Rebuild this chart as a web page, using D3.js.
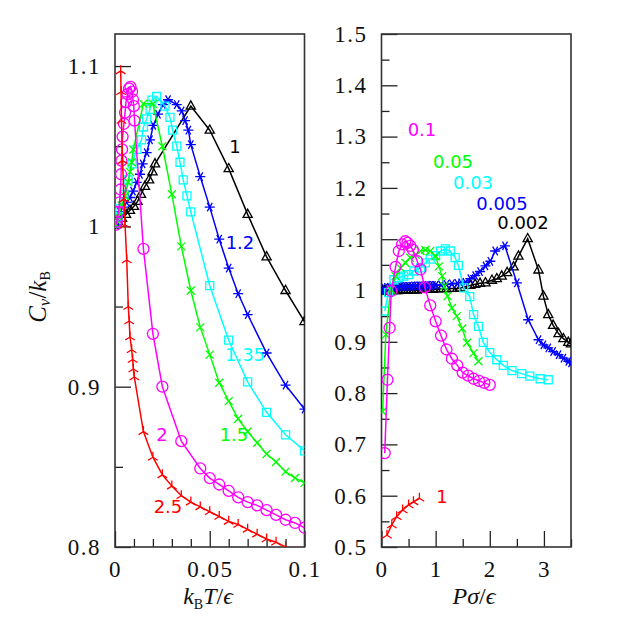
<!DOCTYPE html>
<html><head><meta charset="utf-8">
<script src="https://cdn.jsdelivr.net/npm/d3@7"></script>
<style>body{margin:0;background:#fff}svg{display:block}</style>
</head><body>
<svg id="c" width="623" height="623"></svg>
<script>
// ---------- LEFT PANEL: C_v/k_B vs k_B T/eps, labelled by pressure ----------
const leftP1_T  = [0.0005,0.0016,0.0037,0.0058,0.0079,0.01,0.0119,0.0137,0.0158,0.018,0.0198,0.0211,0.04,0.05,0.06,0.07,0.08,0.09,0.1];
const leftP1_Cv = [1.001,1.003,1.005,1.0075,1.01,1.0125,1.0156,1.02,1.025,1.029,1.034,1.039,1.075,1.06,1.036,1.0075,0.981,0.96,0.9406];
const leftP12_T  = [0.0005,0.001,0.0026,0.0042,0.0062,0.0079,0.0095,0.0115,0.0132,0.0146,0.0167,0.0185,0.0202,0.0227,0.0253,0.028,0.0326,0.0352,0.037,0.0387,0.04,0.045,0.05,0.055,0.06,0.065,0.07,0.08,0.09,0.1];
const leftP12_Cv = [1.001,1.004,1.009,1.012,1.015,1.018,1.022,1.0275,1.0325,1.039,1.046,1.054,1.063,1.07,1.076,1.079,1.076,1.072,1.066,1.06,1.051,1.031,1.012,0.992,0.974,0.958,0.945,0.921,0.901,0.886];
const leftP135_T  = [0.0005,0.0016,0.0026,0.0047,0.0069,0.009,0.0116,0.014,0.015,0.0167,0.0185,0.0195,0.022,0.0264,0.029,0.0304,0.0326,0.0343,0.036,0.038,0.04,0.05,0.06,0.07,0.08,0.09,0.1];
const leftP135_Cv = [1.002,1.006,1.011,1.02,1.029,1.039,1.048,1.054,1.062,1.067,1.073,1.0788,1.081,1.075,1.068,1.06,1.05,1.04,1.029,1.019,1.009,0.963,0.929,0.903,0.884,0.87,0.86];
const leftP15_T  = [0.0005,0.0017,0.0035,0.0053,0.007,0.0079,0.0088,0.0097,0.015,0.02,0.025,0.03,0.035,0.04,0.045,0.05,0.055,0.06,0.065,0.07,0.075,0.08,0.085,0.09,0.095,0.1];
const leftP15_Cv = [1.001,1.006,1.013,1.019,1.0275,1.034,1.04,1.048,1.0765,1.0765,1.05,1.02,0.9875,0.96,0.937,0.92,0.9025,0.891,0.88,0.872,0.865,0.858,0.853,0.847,0.843,0.84];
const leftP2_T  = [0.0005,0.001,0.0018,0.0024,0.0029,0.0032,0.0034,0.0037,0.004,0.0047,0.0053,0.0058,0.0066,0.0074,0.0082,0.009,0.0095,0.0099,0.0103,0.015,0.02,0.025,0.035,0.045,0.05,0.055,0.06,0.065,0.07,0.075,0.08,0.085,0.09,0.095,0.1];
const leftP2_Cv = [1.001,1.003,1.009,1.015,1.023,1.0325,1.041,1.048,1.056,1.064,1.071,1.0775,1.0825,1.086,1.087,1.084,1.079,1.075,1.066,0.986,0.933,0.9,0.866,0.849,0.843,0.839,0.835,0.831,0.828,0.826,0.823,0.82,0.817,0.815,0.812];
const leftP25_T  = [0.003,0.0032,0.0034,0.004,0.0047,0.0053,0.0062,0.007,0.0075,0.0079,0.0088,0.0093,0.0097,0.0102,0.015,0.02,0.025,0.03,0.035,0.04,0.045,0.05,0.055,0.06,0.065,0.07,0.075,0.08,0.085,0.09,0.095];
const leftP25_Cv = [1.097,1.084,1.066,1.041,1.017,1.001,0.979,0.95,0.941,0.931,0.923,0.917,0.911,0.906,0.872,0.856,0.845,0.838,0.832,0.828,0.825,0.822,0.819,0.816,0.814,0.811,0.808,0.805,0.803,0.8,0.797];

// ---------- RIGHT PANEL: C_v/k_B vs P sigma/eps, labelled by temperature ----------
const rightT01_P  = [0.06,0.11,0.15,0.18,0.26,0.32,0.38,0.44,0.48,0.53,0.58,0.66,0.72,0.8,0.9,1.0,1.1,1.2,1.3,1.4,1.5,1.6,1.7,1.8,1.9,2.0];
const rightT01_Cv = [0.683,0.826,0.927,0.999,1.046,1.077,1.09,1.096,1.093,1.087,1.079,1.057,1.041,1.006,0.971,0.94,0.912,0.885,0.867,0.854,0.84,0.834,0.828,0.824,0.82,0.816];
const rightT005_P  = [0.02,0.08,0.17,0.26,0.35,0.44,0.53,0.63,0.72,0.81,0.9,1.0,1.06,1.12,1.16,1.22,1.3,1.39,1.49,1.58,1.7,1.79];
const rightT005_Cv = [0.764,0.914,1.002,1.028,1.044,1.054,1.064,1.07,1.077,1.079,1.077,1.067,1.047,1.028,1.008,0.989,0.966,0.95,0.926,0.898,0.878,0.862];
const rightT003_P  = [0.06,0.13,0.23,0.32,0.41,0.5,0.6,0.72,0.81,0.9,1.0,1.09,1.18,1.27,1.36,1.42,1.52,1.63,1.7,1.79,1.88,2.0,2.13,2.25,2.41,2.59,2.74,2.93,3.08];
const rightT003_Cv = [0.96,0.996,1.021,1.025,1.028,1.031,1.038,1.044,1.054,1.061,1.068,1.077,1.081,1.077,1.064,1.049,1.005,0.988,0.953,0.93,0.899,0.879,0.865,0.854,0.844,0.838,0.833,0.828,0.826];
const rightT0005_P  = [0.03,0.06,0.1,0.15,0.2,0.25,0.3,0.35,0.4,0.45,0.5,0.55,0.6,0.65,0.7,0.75,0.8,0.85,0.9,0.95,1.0,1.1,1.2,1.3,1.4,1.47,1.55,1.64,1.73,1.82,1.92,2.01,2.1,2.28,2.5,2.71,2.9,2.99,3.08,3.17,3.27,3.36,3.45,3.5];
const rightT0005_Cv = [0.998,1.004,1.006,1.006,1.007,1.007,1.007,1.008,1.008,1.008,1.008,1.008,1.009,1.009,1.009,1.009,1.009,1.01,1.01,1.01,1.01,1.011,1.012,1.013,1.014,1.015,1.016,1.023,1.029,1.037,1.048,1.057,1.077,1.087,1.015,0.943,0.904,0.894,0.888,0.881,0.875,0.868,0.862,0.859];
const rightT0002_P  = [0.02,0.06,0.1,0.15,0.2,0.25,0.3,0.35,0.4,0.45,0.5,0.55,0.6,0.65,0.7,0.75,0.8,0.85,0.9,0.95,1.0,1.1,1.2,1.3,1.4,1.46,1.64,1.73,1.82,1.92,2.04,2.13,2.22,2.32,2.44,2.53,2.7,2.9,2.99,3.08,3.17,3.27,3.36,3.45,3.5];
const rightT0002_Cv = [0.999,1.0,1.0,1.0,1.0,1.0,1.0,1.001,1.001,1.001,1.001,1.001,1.001,1.001,1.002,1.002,1.002,1.002,1.002,1.002,1.003,1.003,1.003,1.004,1.004,1.005,1.01,1.012,1.014,1.015,1.02,1.023,1.028,1.035,1.046,1.067,1.101,1.04,0.989,0.953,0.932,0.916,0.906,0.899,0.896];
const rightT1_P  = [0.1,0.19,0.28,0.39,0.5,0.59,0.7];
const rightT1_Cv = [0.523,0.543,0.559,0.572,0.582,0.588,0.595];

// tick values
const leftXMajor = [0, 0.05, 0.1];
const leftXMinor = [0.01,0.02,0.03,0.04,0.06,0.07,0.08,0.09];
const leftYMajor = [0.8, 0.9, 1.0, 1.1];
const leftYMinor = [0.85, 0.95, 1.05];
const rightXMajor = [0, 1, 2, 3];
const rightXMinor = [0.5, 1.5, 2.5, 3.5];
const rightYMajor = [0.5,0.6,0.7,0.8,0.9,1.0,1.1,1.2,1.3,1.4,1.5];
const rightYMinor = [0.55,0.65,0.75,0.85,0.95,1.05,1.15,1.25,1.35,1.45];

const svg = d3.select('#c');
const yTop = 34, yBot = 547;
const xL = d3.scaleLinear().domain([0, 0.1]).range([115, 304.5]);
const yL = d3.scaleLinear().domain([0.8, 1.12]).range([yBot, yTop]);
const xR = d3.scaleLinear().domain([0, 3.5]).range([381.5, 571]);
const yR = d3.scaleLinear().domain([0.5, 1.5]).range([yBot, yTop]);

const defs = svg.append('defs');
defs.append('clipPath').attr('id','clipL').append('rect').attr('x',115).attr('y',yTop).attr('width',189.5).attr('height',yBot-yTop);
defs.append('clipPath').attr('id','clipR').append('rect').attr('x',381.5).attr('y',yTop).attr('width',189.5).attr('height',yBot-yTop);

const tickFont = 'Liberation Serif, DejaVu Serif, serif';
function axes(xs, ys, xMaj, xMin, yMaj, yMin, yFmt, xFmt) {
  const g = svg.append('g');
  g.append('g').attr('transform', `translate(0,${yBot})`)
    .call(d3.axisBottom(xs).tickValues(xMaj).tickSize(-16).tickFormat(xFmt).tickPadding(14));
  g.append('g').attr('transform', `translate(0,${yBot})`)
    .call(d3.axisBottom(xs).tickValues(xMin).tickSize(-8).tickFormat(''));
  g.append('g').attr('transform', `translate(${xs.range()[0]},0)`)
    .call(d3.axisLeft(ys).tickValues(yMaj).tickSize(-16).tickFormat(yFmt).tickPadding(14));
  g.append('g').attr('transform', `translate(${xs.range()[0]},0)`)
    .call(d3.axisLeft(ys).tickValues(yMin).tickSize(-8).tickFormat(''));
  g.selectAll('.domain').remove();
  g.selectAll('.tick line').attr('stroke','#222').attr('stroke-width',1.3);
  g.selectAll('text').attr('font-family', tickFont).attr('font-size', 23).attr('fill','#111').attr('letter-spacing', 1.5);
  g.append('rect').attr('x', xs.range()[0]).attr('y', yTop)
    .attr('width', xs.range()[1]-xs.range()[0]).attr('height', yBot-yTop)
    .attr('fill','none').attr('stroke','#333').attr('stroke-width',1.6);
}
const fmtY = d => d === 1 ? '1' : d3.format('.1f')(d);
axes(xL, yL, leftXMajor, leftXMinor, leftYMajor, leftYMinor, fmtY, d => d === 0 ? '0' : (d === 0.1 ? '0.1' : '0.05'));
axes(xR, yR, rightXMajor, rightXMinor, rightYMajor, rightYMinor, fmtY, d3.format('d'));

const markers = {
  tri: 'M0,-5.2L4.6,3L-4.6,3Z',
  star: 'M-5,0L5,0M-2.5,-4.3L2.5,4.3M-2.5,4.3L2.5,-4.3',
  sq: 'M-4,-4H4V4H-4Z',
  cross: 'M-4,-4L4,4M-4,4L4,-4',
  circ: 'M5.5,0A5.5,5.5 0 1,1 -5.5,0A5.5,5.5 0 1,1 5.5,0Z',
  wye: 'M0,0L0,-5.5M0,0L-4.8,3M0,0L4.8,3'
};

function series(xs, ys, clip, X, Y, color, mk) {
  const pts = X.map((x, i) => [x, Y[i]]);
  const g = svg.append('g').attr('clip-path', `url(#${clip})`);
  g.append('path').datum(pts)
    .attr('d', d3.line().x(d => xs(d[0])).y(d => ys(d[1])))
    .attr('fill','none').attr('stroke', color).attr('stroke-width', 1.5);
  g.selectAll('path.m').data(pts).join('path').attr('class','m')
    .attr('transform', d => `translate(${xs(d[0])},${ys(d[1])})`)
    .attr('d', markers[mk]).attr('fill','none').attr('stroke', color).attr('stroke-width', 1.3);
}

series(xL, yL, 'clipL', leftP1_T, leftP1_Cv, '#000000', 'tri');
series(xL, yL, 'clipL', leftP12_T, leftP12_Cv, '#0000ff', 'star');
series(xL, yL, 'clipL', leftP135_T, leftP135_Cv, '#00ffff', 'sq');
series(xL, yL, 'clipL', leftP15_T, leftP15_Cv, '#00ff00', 'cross');
series(xL, yL, 'clipL', leftP2_T, leftP2_Cv, '#ff00ff', 'circ');
series(xL, yL, 'clipL', leftP25_T, leftP25_Cv, '#ff0000', 'wye');

series(xR, yR, 'clipR', rightT0002_P, rightT0002_Cv, '#000000', 'tri');
series(xR, yR, 'clipR', rightT0005_P, rightT0005_Cv, '#0000ff', 'star');
series(xR, yR, 'clipR', rightT003_P, rightT003_Cv, '#00ffff', 'sq');
series(xR, yR, 'clipR', rightT005_P, rightT005_Cv, '#00ff00', 'cross');
series(xR, yR, 'clipR', rightT01_P, rightT01_Cv, '#ff00ff', 'circ');
series(xR, yR, 'clipR', rightT1_P, rightT1_Cv, '#ff0000', 'wye');

const labFont = 'DejaVu Sans, sans-serif';
const labels = [
  ['1', 235, 147, '#000000'], ['1.2', 240, 243, '#0000ff'], ['1.35', 245, 355, '#00ffff'],
  ['1.5', 234, 435, '#00ff00'], ['2', 162, 435, '#ff00ff'], ['2.5', 168, 507, '#ff0000'],
  ['0.1', 422, 130, '#ff00ff'], ['0.05', 453, 162, '#00ff00'], ['0.03', 473, 183, '#00ffff'],
  ['0.005', 502, 204, '#0000ff'], ['0.002', 523, 223, '#000000'], ['1', 442, 497, '#ff0000']
];
svg.append('g').selectAll('text').data(labels).join('text')
  .attr('x', d => d[1]).attr('y', d => d[2]).attr('dy', '0.36em')
  .attr('text-anchor','middle').attr('font-family', labFont).attr('font-size', 18)
  .attr('fill', d => d[3]).text(d => d[0]);

const tf = 'Liberation Serif, DejaVu Serif, serif';
const yt = svg.append('text').attr('transform','translate(46,297) rotate(-90)')
  .attr('text-anchor','middle').attr('font-family', tf).attr('font-size', 25).attr('fill','#111');
yt.append('tspan').attr('font-style','italic').text('C');
yt.append('tspan').attr('font-style','italic').attr('font-size',17).attr('dy',4).text('v');
yt.append('tspan').attr('dy',-4).text('/');
yt.append('tspan').attr('font-style','italic').text('k');
yt.append('tspan').attr('font-size',14).attr('dy',4).text('B');

const xt1 = svg.append('text').attr('x', 208).attr('y', 604)
  .attr('text-anchor','middle').attr('font-family', tf).attr('font-size', 24).attr('fill','#111');
xt1.append('tspan').attr('font-style','italic').text('k');
xt1.append('tspan').attr('font-size',14).attr('dy',5).text('B');
xt1.append('tspan').attr('font-style','italic').attr('dy',-5).text('T');
xt1.append('tspan').text('/');
xt1.append('tspan').attr('font-style','italic').text('ϵ');

const xt2 = svg.append('text').attr('x', 474).attr('y', 604)
  .attr('text-anchor','middle').attr('font-family', tf).attr('font-size', 24).attr('fill','#111');
xt2.append('tspan').attr('font-style','italic').text('Pσ');
xt2.append('tspan').text('/');
xt2.append('tspan').attr('font-style','italic').text('ϵ');
</script>
</body></html>
